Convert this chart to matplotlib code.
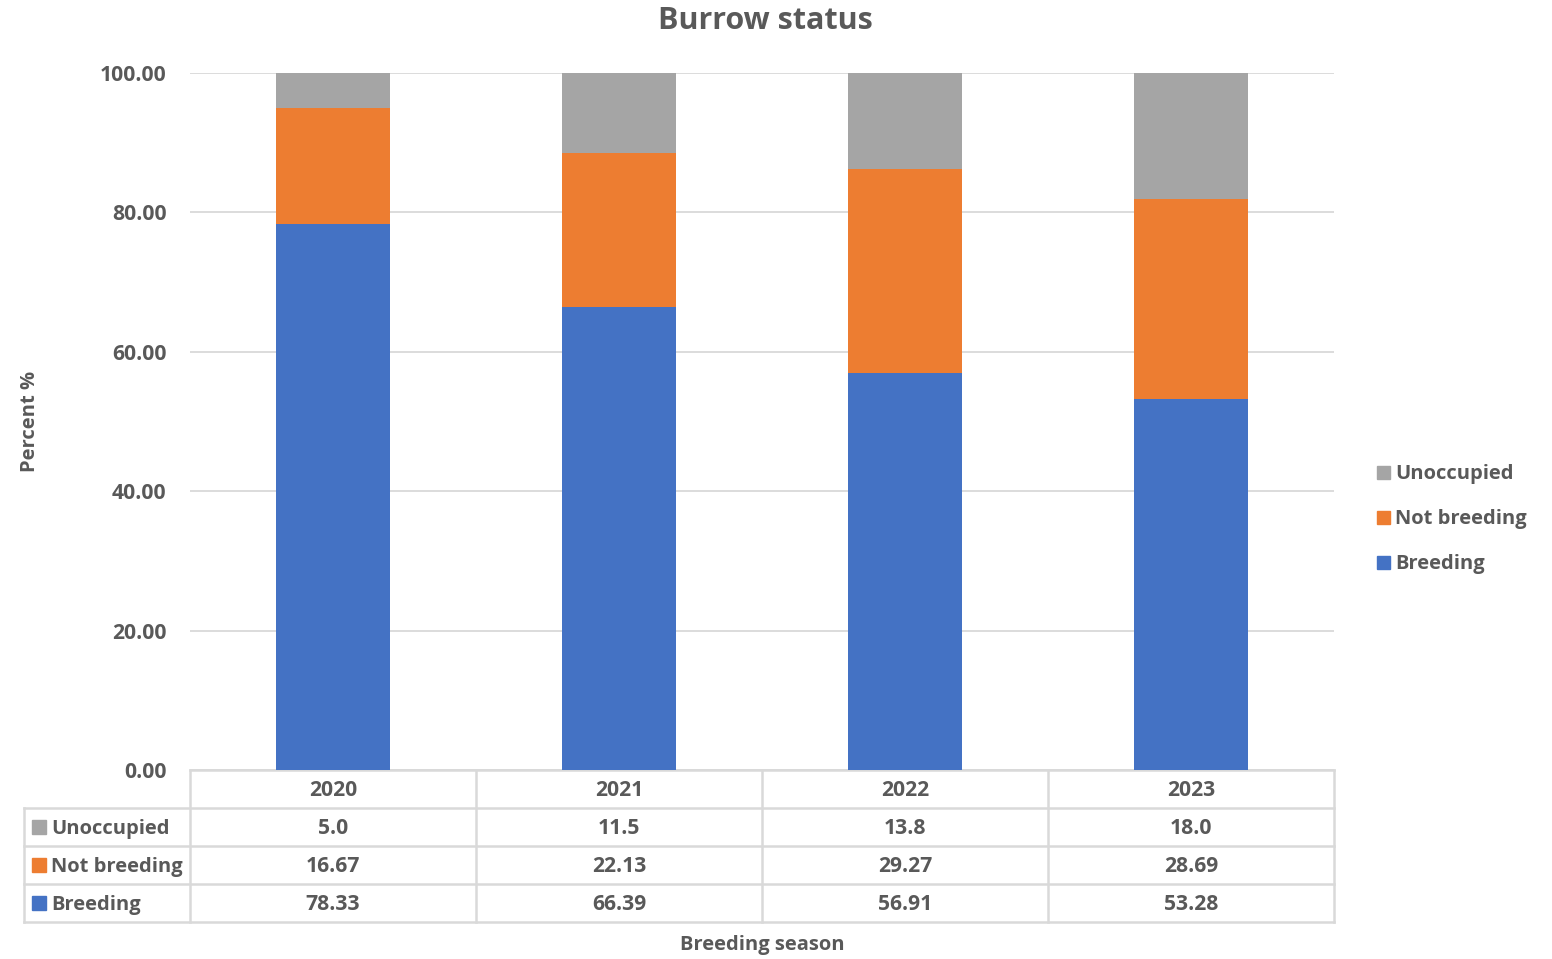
import matplotlib
matplotlib.use("Agg")
import matplotlib.pyplot as plt
from matplotlib.patches import Rectangle
from matplotlib.lines import Line2D

seasons = ["2020", "2021", "2022", "2023"]
breeding = [78.33, 66.39, 56.91, 53.28]
not_breeding = [16.67, 22.13, 29.27, 28.69]
unoccupied = [5.0, 11.5, 13.8, 18.0]
unoccupied_labels = ["5.0", "11.5", "13.8", "18.0"]
yticks = [0, 20, 40, 60, 80, 100]

BLUE = "#4472C4"
ORANGE = "#ED7D31"
GRAY = "#A5A5A5"
TEXT = "#595959"
GRID = "#D9D9D9"

plt.rcParams["font.family"] = ["Open Sans", "DejaVu Sans"]
plt.rcParams["font.weight"] = "bold"
FS = 14.5   # words
FN = 15.2   # numbers
DY = 2      # vertical nudge for centred text, pixels

W, H = 1552, 959
fig = plt.figure(figsize=(W / 100, H / 100), dpi=100)
ax_l, ax_r, ax_t, ax_b = 190, 1334, 73, 770
ax = fig.add_axes([ax_l / W, (H - ax_b) / H, (ax_r - ax_l) / W, (ax_b - ax_t) / H])

x = list(range(len(seasons)))
bw = 0.4
ax.bar(x, breeding, width=bw, color=BLUE, zorder=3, label="Breeding")
ax.bar(x, not_breeding, width=bw, bottom=breeding, color=ORANGE, zorder=3, label="Not breeding")
bottoms2 = [b + n for b, n in zip(breeding, not_breeding)]
ax.bar(x, unoccupied, width=bw, bottom=bottoms2, color=GRAY, zorder=3, label="Unoccupied")

ax.set_xlim(-0.5, len(seasons) - 0.5)
ax.set_ylim(0, 100)
ax.set_yticks(yticks)
ax.set_yticklabels([f"{v:.2f}" for v in yticks], color=TEXT, fontsize=FN, fontweight="bold")
ax.tick_params(axis="y", length=0, pad=17)
ax.set_xticks([])
ax.yaxis.grid(True, color=GRID, linewidth=1.3, zorder=0)
for s in ax.spines.values():
    s.set_visible(False)

fig.text((ax_l + ax_r) / 2 / W + 0.002, 1 - (19 + DY) / H, "Burrow status", ha="center", va="center",
         fontsize=22, fontweight="bold", color=TEXT)
fig.text(30 / W, 1 - 421 / H, "Percent %", ha="center", va="center", rotation=90,
         fontsize=FS, fontweight="bold", color=TEXT)

# data table beneath the axes, laid out in pixel rows
axh = ax_b - ax_t
axw = ax_r - ax_l

def ya(py):
    return (ax_b - py) / axh

def xa(px):
    return (px - ax_l) / axw

lkw = dict(color=GRID, linewidth=1.8, transform=ax.transAxes, clip_on=False)
ax.add_line(Line2D([0, 1], [ya(ax_b)] * 2, **lkw))
for py in (808, 846, 884, 922):
    ax.add_line(Line2D([xa(24), 1], [ya(py)] * 2, **lkw))
for i in range(len(seasons) + 1):
    ax.add_line(Line2D([i / len(seasons)] * 2, [ya(ax_b), ya(922)], **lkw))
ax.add_line(Line2D([xa(24)] * 2, [ya(808), ya(922)], **lkw))

tkw = dict(transform=ax.transAxes, ha="center", va="center", fontsize=FN,
           fontweight="bold", color=TEXT, clip_on=False)
for i, s in enumerate(seasons):
    cx = (i + 0.5) / len(seasons)
    ax.text(cx, ya(789 + DY), s, **tkw)
    ax.text(cx, ya(827 + DY), unoccupied_labels[i], **tkw)
    ax.text(cx, ya(865 + DY), f"{not_breeding[i]:.2f}", **tkw)
    ax.text(cx, ya(903 + DY), f"{breeding[i]:.2f}", **tkw)

for name, col, py in [("Unoccupied", GRAY, 827), ("Not breeding", ORANGE, 865), ("Breeding", BLUE, 903)]:
    ax.add_patch(Rectangle((xa(32), ya(py + 7)), 14 / axw, 14 / axh, color=col,
                           transform=ax.transAxes, clip_on=False))
    ax.text(xa(51), ya(py + DY), name, transform=ax.transAxes, ha="left", va="center",
            fontsize=FS, fontweight="bold", color=TEXT, clip_on=False)

fig.text((ax_l + ax_r) / 2 / W, 1 - (943 + DY) / H, "Breeding season", ha="center", va="center",
         fontsize=FS, fontweight="bold", color=TEXT)

# legend on the right
for name, col, py in [("Unoccupied", GRAY, 472), ("Not breeding", ORANGE, 517), ("Breeding", BLUE, 562)]:
    fig.patches.append(Rectangle((1377 / W, 1 - (py + 7) / H), 13 / W, 13 / H, color=col,
                                 transform=fig.transFigure))
    fig.text(1395 / W, 1 - (py + DY) / H, name, ha="left", va="center", fontsize=FS,
             fontweight="bold", color=TEXT)

fig.savefig("out.png", dpi=100)
